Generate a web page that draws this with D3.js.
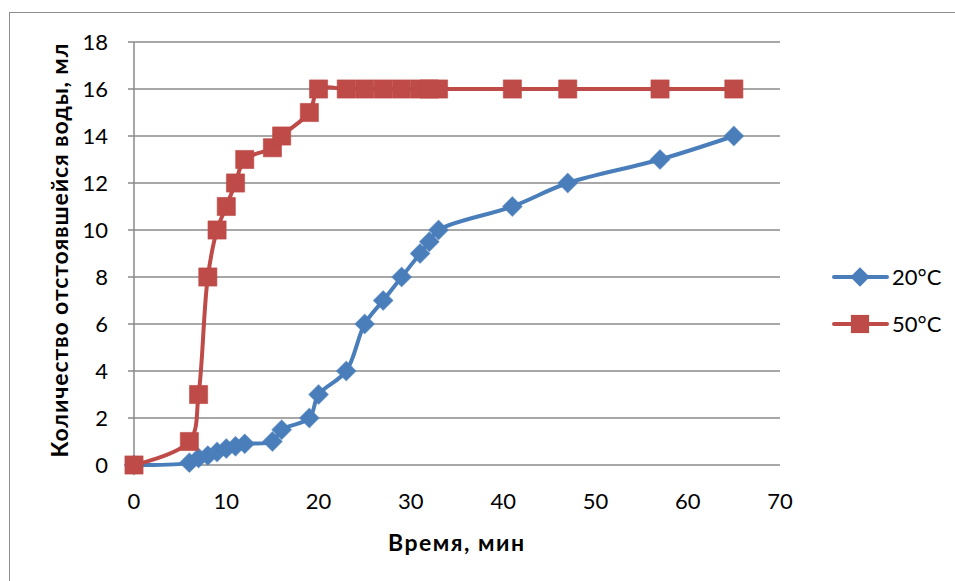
<!DOCTYPE html>
<html>
<head>
<meta charset="utf-8">
<script src="https://cdn.jsdelivr.net/npm/d3@7"></script>
<style>
  body { margin: 0; background: #fff; }
  text { font-family: Lato, "Open Sans", sans-serif; }
</style>
</head>
<body>
<div id="chart"></div>
<script>
// time, minutes (same for both series)
const times = [0, 6, 7, 8, 9, 10, 11, 12, 15, 16, 19, 20, 23, 25, 27, 29, 31, 32, 33, 41, 47, 57, 65];
const water20 = [0, 0.1, 0.3, 0.4, 0.55, 0.7, 0.8, 0.9, 1, 1.5, 2, 3, 4, 6, 7, 8, 9, 9.5, 10, 11, 12, 13, 14];
const water50 = [0, 1, 3, 8, 10, 11, 12, 13, 13.5, 14, 15, 16, 16, 16, 16, 16, 16, 16, 16, 16, 16, 16, 16];
const seriesNames = ["20°C", "50°C"];
const xTicks = [0, 10, 20, 30, 40, 50, 60, 70];
const yTicks = [0, 2, 4, 6, 8, 10, 12, 14, 16, 18];

const width = 955, height = 581;
const margin = { left: 134, top: 42, right: 175, bottom: 116 };
const blue = "#4A7EBB", red = "#BE4B48";

const svg = d3.select("#chart").append("svg")
  .attr("width", width)
  .attr("height", height);

// outer chart border (runs off the picture on the right and bottom)
svg.append("rect")
  .attr("x", 9.5).attr("y", 12.5)
  .attr("width", 960).attr("height", 600)
  .attr("fill", "none")
  .attr("stroke", "#8c8c8c")
  .attr("stroke-width", 1);

const x = d3.scaleLinear().domain([0, 70]).range([margin.left, width - margin.right]);
const y = d3.scaleLinear().domain([0, 18]).range([height - margin.bottom, margin.top]);

// horizontal gridlines with small outer ticks
svg.append("g")
  .selectAll("line")
  .data(yTicks)
  .join("line")
  .attr("x1", x(0) - 6)
  .attr("x2", x(70))
  .attr("y1", d => y(d))
  .attr("y2", d => y(d))
  .attr("stroke", "#8a8a8a")
  .attr("stroke-width", 1.5);

// y axis line
svg.append("line")
  .attr("x1", x(0)).attr("x2", x(0))
  .attr("y1", y(18)).attr("y2", y(0))
  .attr("stroke", "#8a8a8a")
  .attr("stroke-width", 1.5);

// tick labels
svg.append("g")
  .selectAll("text")
  .data(yTicks)
  .join("text")
  .attr("x", x(0) - 26)
  .attr("y", d => y(d))
  .attr("dy", "0.35em")
  .attr("text-anchor", "end")
  .attr("font-size", 22)
  .attr("fill", "#000")
  .text(d => d);

svg.append("g")
  .selectAll("text")
  .data(xTicks)
  .join("text")
  .attr("x", d => x(d))
  .attr("y", y(0) + 36)
  .attr("dy", "0.35em")
  .attr("text-anchor", "middle")
  .attr("font-size", 22)
  .attr("fill", "#000")
  .text(d => d);

// axis titles (Calibri bold is wider, so stretch the spacing a little)
svg.append("text")
  .attr("x", (x(0) + x(70)) / 2 - 1)
  .attr("y", 543)
  .attr("dy", "0.35em")
  .attr("text-anchor", "middle")
  .attr("font-size", 23)
  .attr("font-weight", "bold")
  .attr("textLength", 136)
  .attr("lengthAdjust", "spacing")
  .text("Время, мин");

svg.append("text")
  .attr("transform", `translate(60,${(y(0) + y(18)) / 2 - 3}) rotate(-90)`)
  .attr("dy", "0.35em")
  .attr("text-anchor", "middle")
  .attr("font-size", 23)
  .attr("font-weight", "bold")
  .attr("textLength", 414)
  .attr("lengthAdjust", "spacing")
  .text("Количество отстоявшейся воды, мл");

const line = d3.line()
  .x(d => x(d[0]))
  .y(d => y(d[1]))
  .curve(d3.curveCatmullRom);

const pts20 = times.map((t, i) => [t, water20[i]]);
const pts50 = times.map((t, i) => [t, water50[i]]);

const diamond = d3.symbol().type(d3.symbolSquare).size(190)();
const square = d3.symbol().type(d3.symbolSquare).size(330)();

const drawSeries = (pts, color, shape, rot) => {
  svg.append("path")
    .datum(pts)
    .attr("d", line)
    .attr("fill", "none")
    .attr("stroke", color)
    .attr("stroke-width", 4)
    .attr("stroke-linejoin", "round");
  svg.append("g")
    .selectAll("path")
    .data(pts)
    .join("path")
    .attr("d", shape)
    .attr("transform", d => `translate(${x(d[0])},${y(d[1])}) rotate(${rot})`)
    .attr("fill", color)
    .attr("stroke", color)
    .attr("stroke-opacity", 0.6);
};

drawSeries(pts20, blue, diamond, 45);
drawSeries(pts50, red, square, 0);

// legend
const legend = svg.append("g");
const legendItems = [
  { name: seriesNames[0], color: blue, shape: diamond, rot: 45, y: 277 },
  { name: seriesNames[1], color: red, shape: square, rot: 0, y: 324 }
];
legendItems.forEach(item => {
  legend.append("line")
    .attr("x1", 834).attr("x2", 887)
    .attr("y1", item.y).attr("y2", item.y)
    .attr("stroke", item.color)
    .attr("stroke-width", 4)
    .attr("stroke-linecap", "round");
  legend.append("path")
    .attr("d", item.shape)
    .attr("transform", `translate(860,${item.y}) rotate(${item.rot})`)
    .attr("fill", item.color);
  legend.append("text")
    .attr("x", 892)
    .attr("y", item.y)
    .attr("dy", "0.35em")
    .attr("font-size", 22)
    .text(item.name);
});
</script>
</body>
</html>
